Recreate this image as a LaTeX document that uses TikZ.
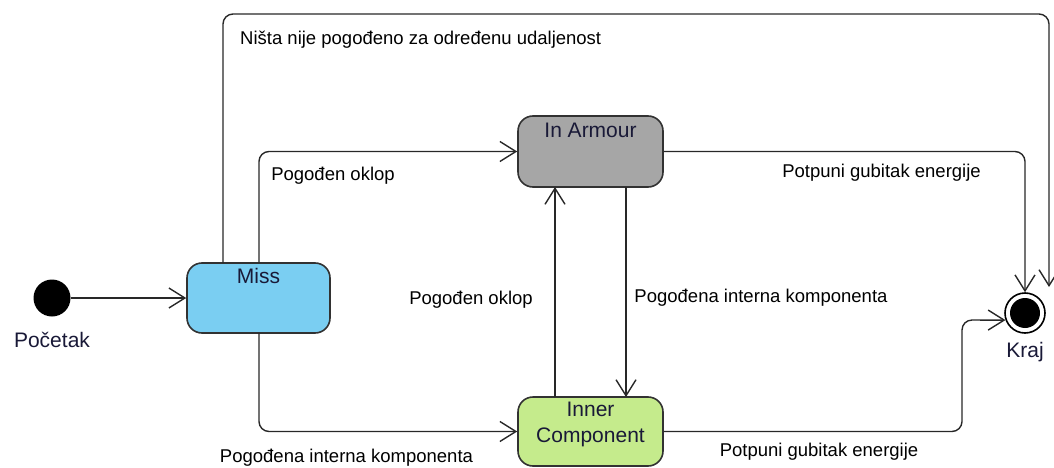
\documentclass[tikz,border=0pt]{standalone}
\usepackage{fontspec}
\setmainfont{Liberation Sans}
\usetikzlibrary{arrows.meta,calc}
\definecolor{missblue}{RGB}{122,206,242}
\definecolor{armourgray}{RGB}{166,166,166}
\definecolor{innergreen}{RGB}{197,235,140}
\definecolor{linegray}{RGB}{40,40,40}
\definecolor{boxline}{RGB}{50,50,50}
\definecolor{txt}{RGB}{25,25,55}
\tikzset{
  x=1pt, y=-1pt,
  conn/.style={draw=linegray, line width=1.4pt, rounded corners=10pt},
  arr/.style={conn, -{Straight Barb[length=16pt,width=20pt,line width=1.4pt]}},
  stbox/.style={draw=boxline, line width=1.6pt, rounded corners=15pt, inner sep=0pt},
  stname/.style={font=\fontsize{21}{26}\selectfont, text=txt, inner sep=0pt, align=center},
  elabel/.style={font=\fontsize{18.5}{22}\selectfont, text=black, inner sep=0pt},
}
\begin{document}
\begin{tikzpicture}
\useasboundingbox (0,0) rectangle (1054,468);
% states
\node[circle, fill=black, minimum size=37pt, inner sep=0pt] (init) at (52,298) {};
\node[stbox, fill=missblue, minimum width=143pt, minimum height=70pt] (miss) at (258.5,298) {};
\node[stbox, fill=armourgray, minimum width=145pt, minimum height=71pt] (armour) at (590.5,151.5) {};
\node[stbox, fill=innergreen, minimum width=145pt, minimum height=69pt] (inner) at (590.5,431.5) {};
\node[circle, draw=black, line width=1.6pt, minimum size=40pt, inner sep=0pt] (kraj) at (1025,313) {};
\node[circle, fill=black, minimum size=30pt, inner sep=0pt] (krajin) at (kraj.center) {};
% state names
\node[stname] (missT) at (258.5,276) {Miss};
\node[stname] (armourT) at (590.5,130) {In Armour};
\node[stname] (innerT) at (590.5,424) {Inner\\Component};
\node[stname] (initT) at (52,340) {Početak};
\node[stname] (krajT) at (1025,352) {Kraj};
% helper coordinates
\coordinate (mA) at (223,263);
\coordinate (mB) at (259,263);
\coordinate (mC) at (259,333);
\coordinate (iUp) at (555,397);
\coordinate (aUp) at (555,187);
\coordinate (aDn) at (626,187);
\coordinate (iDn) at (626,397);
\coordinate (loopend) at (1049,287);
% connectors
\draw[arr] (init) -- (miss.west);
\draw[arr] (mA) -- (223,14) -- (1049,14) -- (loopend);
\draw[arr] (mB) |- (armour.west);
\draw[arr] (mC) |- (inner.west);
\draw[arr] (iUp) -- (aUp);
\draw[arr] (aDn) -- (iDn);
\draw[arr] (armour.east) -| (kraj.north);
\draw[arr] (inner.east) -- (962,431.5) -- (962,320) -- (kraj.200);
% edge labels
\node[elabel, anchor=west] (l1) at (240,40) {Ništa nije pogođeno za određenu udaljenost};
\node[elabel] (l2) at (333,176) {Pogođen oklop};
\node[elabel] (l3) at (346.5,458) {Pogođena interna komponenta};
\node[elabel] (l4) at (471,300) {Pogođen oklop};
\node[elabel] (l5) at (761,298) {Pogođena interna komponenta};
\node[elabel] (l6) at (881.5,173) {Potpuni gubitak energije};
\node[elabel] (l7) at (819,452) {Potpuni gubitak energije};
\end{tikzpicture}
\end{document}
